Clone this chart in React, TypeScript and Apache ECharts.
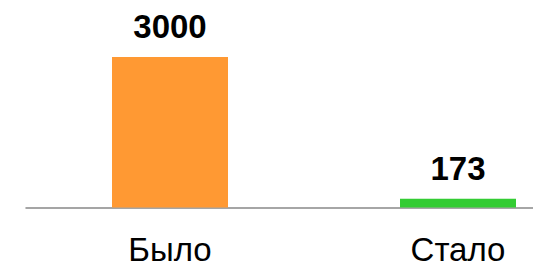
import React, { useEffect, useRef } from "react";
import * as echarts from "echarts";

const categories = ["Было", "Стало"];
const values = [3000, 173];
const barColors = ["#FF9933", "#33CC33"];

export default function App() {
  const ref = useRef<HTMLDivElement>(null);
  useEffect(() => {
    if (!ref.current) return;
    const chart = echarts.init(ref.current, null, { renderer: "svg" });
    chart.setOption({
      animation: false,
      grid: { left: 26, top: 57, width: 576, height: 150.5, outerBoundsMode: "none", containLabel: false },
      xAxis: {
        type: "category",
        data: categories,
        axisLine: { show: true, lineStyle: { color: "#888888", width: 1.5 } },
        axisTick: { show: false },
        axisLabel: {
          color: "#000000",
          fontSize: 33,
          lineHeight: 27,
          fontFamily: "Liberation Sans, Arial, sans-serif",
          margin: 28,
        },
      },
      yAxis: {
        type: "value",
        min: 0,
        max: 3000,
        show: false,
        splitLine: { show: false },
      },
      series: [
        {
          type: "bar",
          barWidth: 116,
          data: values.map((v, i) => ({ value: v, itemStyle: { color: barColors[i] } })),
          label: {
            show: true,
            position: "top",
            distance: 14,
            color: "#000000",
            fontWeight: "bold",
            fontSize: 33,
            fontFamily: "Liberation Sans, Arial, sans-serif",
          },
        },
      ],
    });
    return () => chart.dispose();
  }, []);
  return <div ref={ref} style={{ width: 533, height: 263, position: "absolute", left: 0, top: 0 }} />;
}
